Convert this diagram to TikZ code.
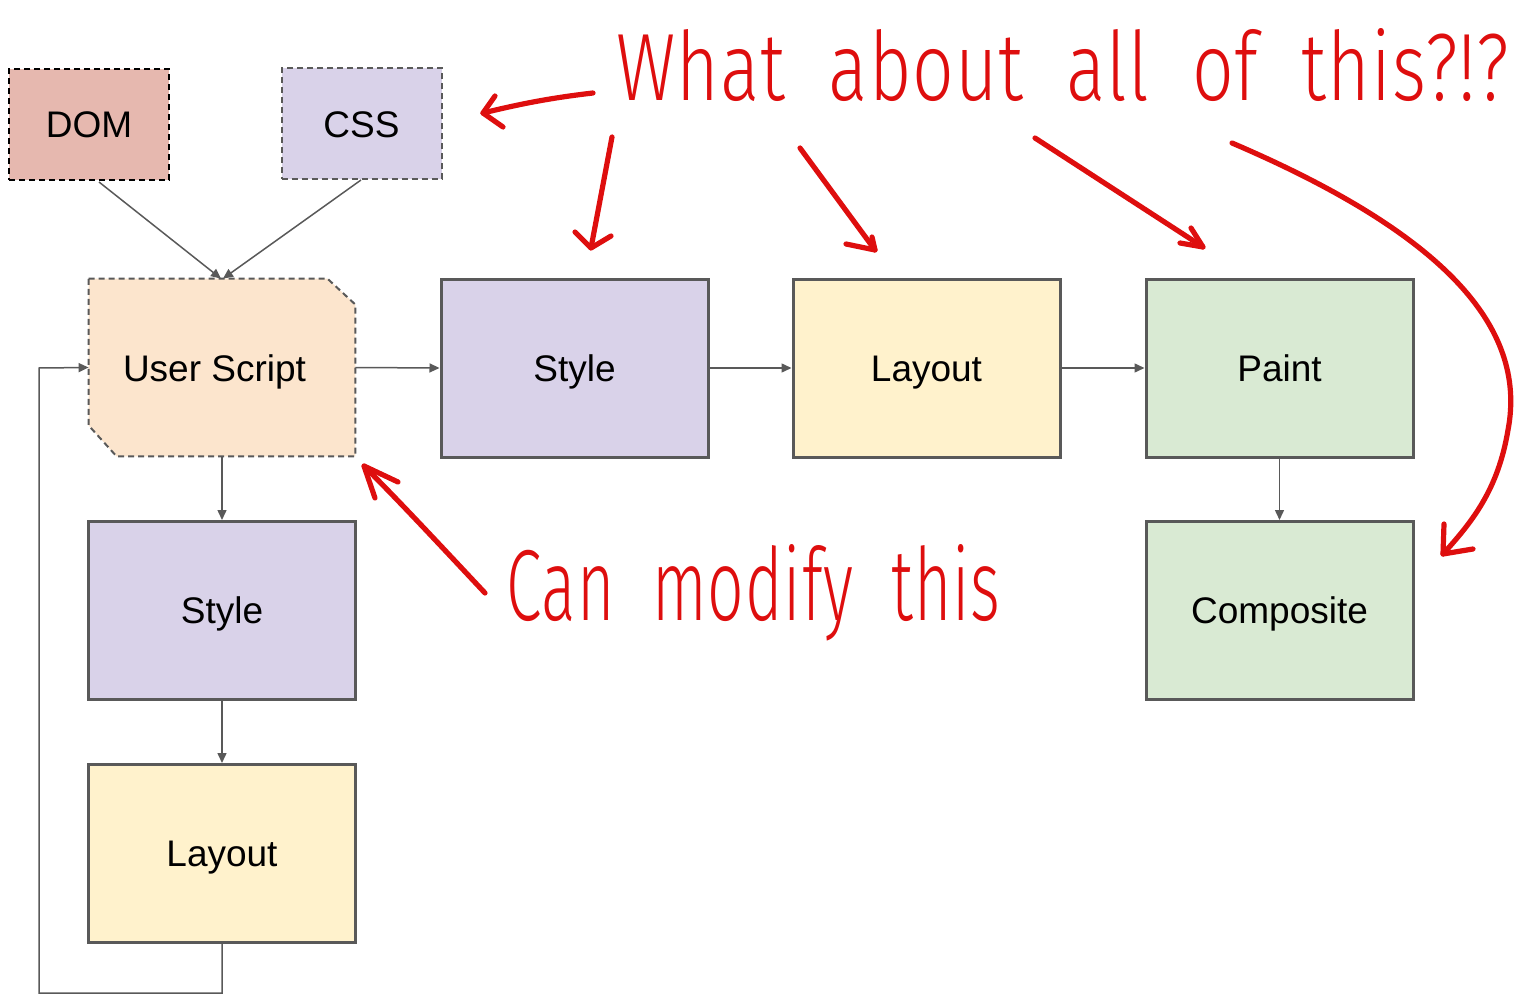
\documentclass[tikz,border=0pt]{standalone}
\usepackage{fontspec}
\setmainfont{Liberation Sans}
\newfontfamily\handfont{Fira Sans Light}[LetterSpace=1.5, WordSpace=2]
\usetikzlibrary{arrows.meta}

\definecolor{edge}{HTML}{595959}
\definecolor{ink}{RGB}{222,14,14}
\definecolor{domfill}{HTML}{E6B8AF}
\definecolor{lilac}{HTML}{D9D2E9}
\definecolor{peach}{HTML}{FCE5CD}
\definecolor{cream}{HTML}{FFF2CC}
\definecolor{mint}{HTML}{D9EAD3}

\begin{document}
\begin{tikzpicture}[
  x=0.5pt, y=-0.5pt,
  labelfont/.style={font=\fontsize{18.5pt}{22pt}\selectfont,
    text height=13.2pt, text depth=0pt},
  stage/.style={rectangle, draw=edge, line width=1.5pt, inner sep=0pt,
    minimum width=133.5pt, minimum height=89pt, labelfont},
  source/.style={rectangle, line width=1pt, dash pattern=on 3pt off 2pt,
    inner sep=0pt, minimum width=80pt, minimum height=55.5pt, labelfont},
  link/.style={draw=edge, line width=0.75pt,
    -{Triangle[length=5pt,width=4.5pt]}},
  note/.style={draw=ink, line width=2.6pt, line cap=round, line join=round},
  scribble/.style={text=ink, inner sep=0pt, font=\handfont},
]
\useasboundingbox (0,0) rectangle (1517,995);

% sources
\node[source, draw=black, fill=domfill] (dom) at (89,124.5) {DOM};
\node[source, draw=edge, fill=lilac] (css) at (361.5,124) {CSS};

% user script: chamfered box drawn around a named node
\node[rectangle, inner sep=0pt, minimum width=133pt, minimum height=88.5pt]
  (us) at (222,367.5) {};
\path[fill=peach, draw=edge, line width=1pt, dash pattern=on 3pt off 2pt]
  (us.north west) -- ([xshift=-14pt]us.north east)
  -- ([yshift=-13pt]us.north east) -- (us.south east)
  -- ([xshift=14pt]us.south west) -- ([yshift=15.5pt]us.south west) -- cycle;
\node[labelfont, inner sep=0pt] (uslabel) at (214.5,368) {User Script};

% main pipeline
\node[stage, fill=lilac] (style1) at (574.5,368) {Style};
\node[stage, fill=cream] (layout1) at (926.5,368) {Layout};
\node[stage, fill=mint] (paint) at (1279.5,368) {Paint};
\node[stage, fill=mint] (comp) at (1279.5,610.5) {Composite};

% script-driven pipeline
\node[stage, fill=lilac] (style2) at (222,610.5) {Style};
\node[stage, fill=cream] (layout2) at (222,853.5) {Layout};

% connectors
\coordinate (domout) at (99,182);
\coordinate (cssout) at (361,180);
\draw[link] (domout) -- ([xshift=-0.5pt]us.north);
\draw[link] (cssout) -- ([xshift=0.5pt]us.north);
\draw[link] (us.east) -- (style1.west);
\draw[link] (style1.east) -- (layout1.west);
\draw[link] (layout1.east) -- (paint.west);
\draw[link] (paint.south) -- (comp.north);
\draw[link] (us.south) -- (style2.north);
\draw[link] (style2.south) -- (layout2.north);

% feedback loop back into the script
\coordinate (loopA) at (222,993);
\coordinate (loopB) at (39,993);
\coordinate (loopC) at (39,368);
\draw[link] (layout2.south) -- (loopA) -- (loopB) -- (loopC) -- (us.west);

% red annotations
\node[scribble, anchor=base west] (q) at (616,101)
  {\resizebox{446pt}{36pt}{What about all of this?!?}};
\node[scribble, anchor=base west] (m) at (506,620)
  {\resizebox{247pt}{38pt}{Can modify this}};

% arrow towards CSS
\coordinate (a1s) at (593,93);
\coordinate (a1t) at (483,113);
\draw[note] (a1s) .. controls (550,98) and (520,104) .. (a1t);
\draw[note] (495,96) -- (a1t) -- (503,127);

% arrow towards Style
\coordinate (a2s) at (612,137);
\coordinate (a2t) at (591,248);
\draw[note] (a2s) -- (a2t);
\draw[note] (575,232) -- (a2t) -- (611,236);

% arrow towards Layout
\coordinate (a3s) at (800,148);
\coordinate (a3t) at (875,250);
\draw[note] (a3s) -- (a3t);
\draw[note] (846,244) -- (a3t) -- (872,237);

% arrow towards Paint
\coordinate (a4s) at (1035,138);
\coordinate (a4t) at (1203,247);
\draw[note] (a4s) -- (a4t);
\draw[note] (1180,243) -- (a4t) -- (1191,228);

% long curved arrow towards Composite
\coordinate (a5s) at (1232,143);
\coordinate (a5t) at (1443,554);
\draw[note] (a5s) .. controls (1440,232) and (1528,325) .. (1508,430)
  .. controls (1498,490) and (1472,522) .. (a5t);
\draw[note] (1444,524) -- (a5t) -- (1473,549);

% arrow towards User Script
\coordinate (a6s) at (485,593);
\coordinate (a6t) at (364,466);
\draw[note] (a6s) .. controls (440,545) and (400,502) .. (a6t);
\draw[note] (398,482) -- (a6t) -- (375,498);
\end{tikzpicture}
\end{document}
